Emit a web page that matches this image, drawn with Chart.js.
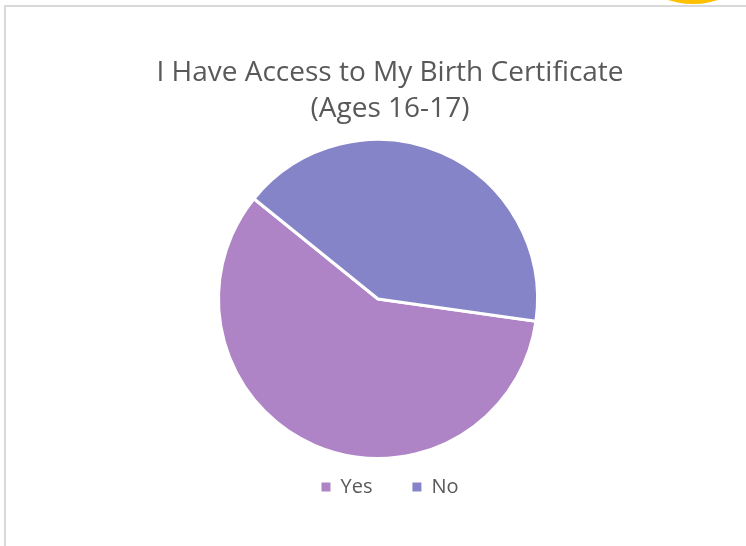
<!DOCTYPE html>
<html>
<head>
<meta charset="utf-8">
<script src="https://cdn.jsdelivr.net/npm/chart.js@4"></script>
<style>
  html, body { margin: 0; padding: 0; background: #fff; overflow: hidden; }
  #wrap { position: relative; width: 746px; height: 546px; }
  /* frame of the chart object (only top and left edges are visible) */
  #frame { position: absolute; left: 4px; top: 5px; width: 800px; height: 600px;
           border-left: 2px solid #d9d9d9; border-top: 2px solid #d9d9d9; }
  /* yellow shape peeking in at the top right */
  #blob { position: absolute; left: 613px; top: -156px; width: 160px; height: 160px;
          border-radius: 50%; background: #ffc000; }
  #chart { position: absolute; left: 0; top: 0; }
</style>
</head>
<body>
<div id="wrap">
  <div id="frame"></div>
  <div id="blob"></div>
  <canvas id="chart" width="746" height="546"></canvas>
</div>
<script>
// data
const categories = ['Yes', 'No'];
const shares = [58.6, 41.4];
const sliceColors = ['#ae84c6', '#8684c8'];
const titleLines = ['I Have Access to My Birth Certificate', '(Ages 16-17)'];

const textColor = '#595959';

// pie sits a little left of the title/legend centre in the original
const nudge = {
    id: 'nudge',
    afterLayout: (chart) => {
        chart.chartArea.left -= 12;
        chart.chartArea.right -= 12;
    }
};

const ctx = document.getElementById('chart');

new Chart(ctx, {
    type: 'pie',
    data: {
        labels: categories,
        datasets: [{
            data: shares,
            backgroundColor: sliceColors,
            borderColor: '#ffffff',
            borderWidth: 3,
            radius: 159.5
        }]
    },
    options: {
        responsive: false,
        animation: false,
        rotation: 98,
        layout: {
            padding: { left: 34, right: 0, top: 0, bottom: 39 }
        },
        plugins: {
            title: {
                display: true,
                text: titleLines,
                color: textColor,
                font: { family: 'Open Sans', size: 28, weight: 'normal', lineHeight: 36 / 28 },
                padding: { top: 55, bottom: 34 }
            },
            legend: {
                display: true,
                position: 'bottom',
                labels: {
                    color: textColor,
                    font: { family: 'Open Sans', size: 20 },
                    boxWidth: 9,
                    boxHeight: 9,
                    padding: 40,
                    // keep the white slice border off the little legend squares
                    generateLabels: (chart) =>
                        Chart.overrides.pie.plugins.legend.labels.generateLabels(chart)
                            .map(item => ({ ...item, lineWidth: 0 }))
                }
            },
            tooltip: { enabled: false }
        }
    },
    plugins: [nudge]
});
</script>
</body>
</html>
